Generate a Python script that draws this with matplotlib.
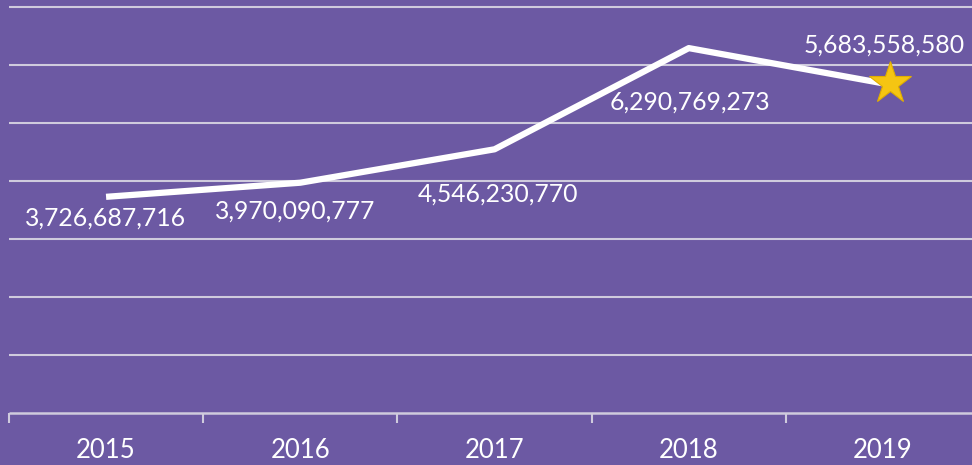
"""Line chart of yearly totals on a purple background, star on the latest year."""

import matplotlib.pyplot as plt
from matplotlib.ticker import FixedLocator

plt.rcParams["font.family"] = ["Lato", "DejaVu Sans"]

YEARS = ["2015", "2016", "2017", "2018", "2019"]
TOTALS = [3726687716, 3970090777, 4546230770, 6290769273, 5683558580]
GRID_VALUES = [1e9, 2e9, 3e9, 4e9, 5e9, 6e9, 7e9]

# label offsets from each point, in pixels (style only)
LABEL_OFFSETS = [(-1, -21), (-5, -28), (3, -45), (1, -54), (1, 38)]

BG = "#6C59A3"
GRID = "#CFCBDD"
STAR = "#F5C512"


def main() -> None:
    fig = plt.figure(figsize=(9.72, 4.65), dpi=100, facecolor=BG)
    ax = fig.add_axes([0, 52 / 465, 1, 413 / 465])
    ax.set_facecolor(BG)

    x = list(range(len(YEARS)))
    ax.set_xlim(-0.546, 4.458)
    ax.set_ylim(0, 7.12e9)

    ax.hlines(GRID_VALUES, -0.5, 5, color=GRID, lw=1.5, zorder=1)
    ax.hlines(0, -0.5, 5, color=GRID, lw=1.8, zorder=1, clip_on=False)

    ax.plot(x, TOTALS, color="white", lw=4.5, solid_capstyle="butt", zorder=3)
    ax.plot(x[-1] + 0.035, TOTALS[-1], marker="*", ms=32, color=STAR,
            markeredgecolor="#E0AE00", markeredgewidth=0.8, zorder=4)

    for xi, v, (dx, dy) in zip(x, TOTALS, LABEL_OFFSETS):
        ax.annotate(f"{v:,}", xy=(xi, v), xytext=(dx, dy),
                    textcoords="offset pixels", ha="center", va="center",
                    color="white", fontsize=17.8, zorder=5)

    for side in ("top", "right", "left", "bottom"):
        ax.spines[side].set_visible(False)

    ax.set_yticks([])
    ax.xaxis.set_major_locator(FixedLocator([i - 0.5 for i in range(len(YEARS) + 1)]))
    ax.xaxis.set_minor_locator(FixedLocator(x))
    ax.set_xticklabels([])
    ax.set_xticklabels(YEARS, minor=True)
    ax.tick_params(axis="x", which="major", length=7.5, width=1.5, color=GRID,
                   direction="out")
    ax.tick_params(axis="x", which="minor", length=0, pad=18, labelsize=18.5,
                   labelcolor="white")

    fig.savefig("out.png", dpi=100, facecolor=BG)


if __name__ == "__main__":
    main()
